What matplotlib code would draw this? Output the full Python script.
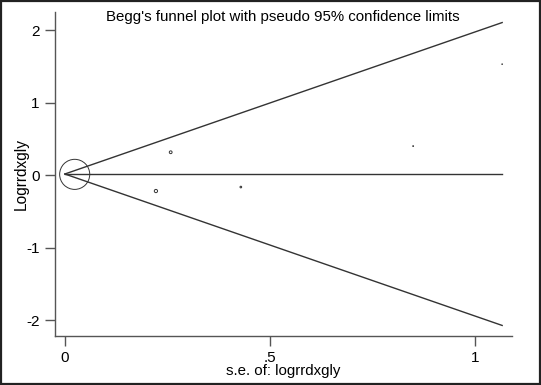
import numpy as np
import matplotlib.pyplot as plt
from matplotlib.patches import Rectangle

plt.rcParams['font.family'] = ['Liberation Sans', 'DejaVu Sans']

# study estimates (log RR) and standard errors
se = [0.024, 0.258, 0.222, 0.429, 0.849, 1.066]
logrr = [0.01, 0.315, -0.22, -0.165, 0.40, 1.53]
theta = 0.015   # pooled estimate

se = np.array(se)
logrr = np.array(logrr)

fig = plt.figure(figsize=(5.41, 3.85), dpi=100)
ax = fig.add_axes([55/541, 49/385, 457/541, 324/385])

# pseudo 95% confidence limits
s = np.array([0, se.max()])
lc = '#333333'
ax.plot(s, theta + 1.96*s, color=lc, lw=1.0)
ax.plot(s, theta - 1.96*s, color=lc, lw=1.0)
ax.plot(s, [theta, theta], color=lc, lw=1.0)

# marker area proportional to weight 1/se^2
sizes = 0.27 / se**2
ax.scatter(se, logrr, s=sizes, facecolors='none', edgecolors=lc, linewidths=0.7)

ax.set_xlim(-0.024, 1.09)
ax.set_ylim(-2.22, 2.25)
ax.set_xticks([0, 0.5, 1])
ax.set_xticklabels(['0', '.5', '1'])
ax.set_yticks([-2, -1, 0, 1, 2])
ax.set_yticklabels(['-2', '-1', '0', '1', '2'])
ax.tick_params(direction='out', length=7, width=1, color='#555555', labelsize=11, pad=4)
for side in ['top', 'right']:
    ax.spines[side].set_visible(False)
for side in ['left', 'bottom']:
    ax.spines[side].set_color('#555555')
    ax.spines[side].set_linewidth(1.0)

ax.set_xlabel('s.e. of: logrrdxgly', fontsize=10.8, labelpad=-1)
ax.set_ylabel('Logrrdxgly', fontsize=11.2, labelpad=-2)
fig.text(283/541, 1 - 17/385, "Begg's funnel plot with pseudo 95% confidence limits",
         ha='center', va='center', fontsize=10.8)

# frame round the whole picture
fig.patches.append(Rectangle((0.002, 0.003), 0.996, 0.994, transform=fig.transFigure,
                             fill=False, edgecolor='#222222', lw=1.6))

fig.savefig('out.png', dpi=100)
